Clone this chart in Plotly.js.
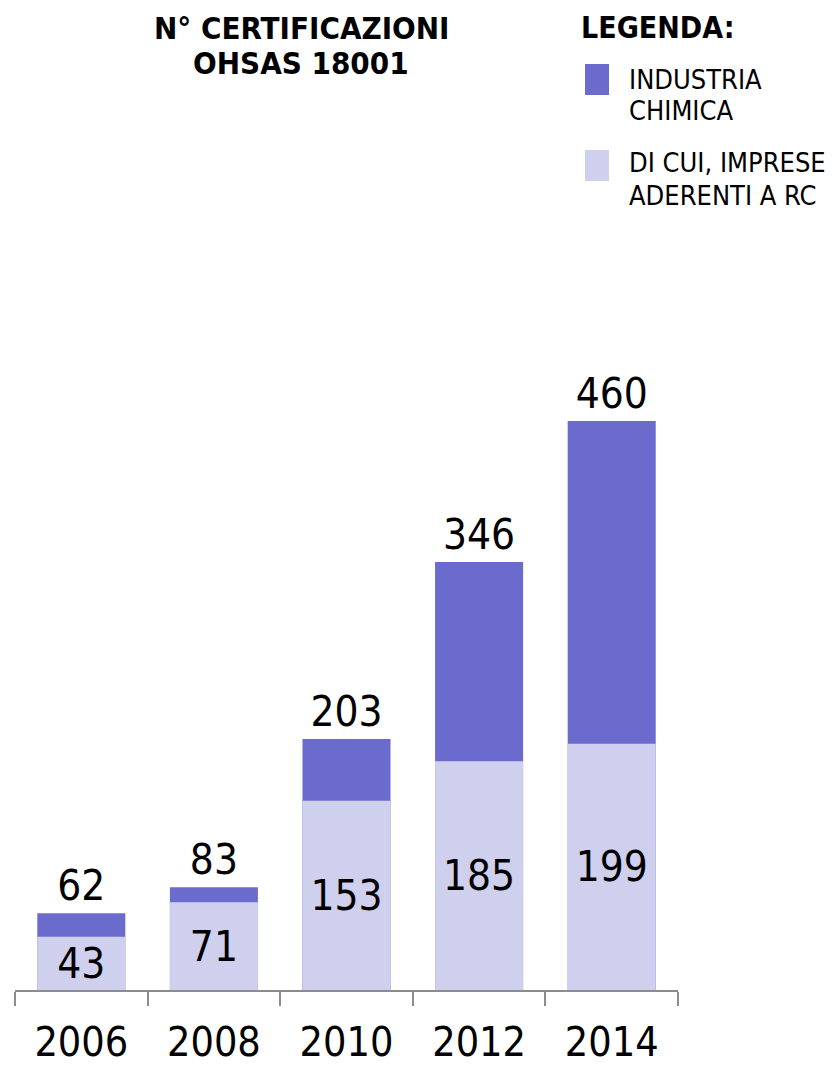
<!DOCTYPE html>
<html>
<head>
<meta charset="utf-8">
<script src="https://cdn.plot.ly/plotly-3.0.1.min.js"></script>
<style>html,body{margin:0;padding:0;background:#fff;}#chart{width:836px;height:1067px;}</style>
</head>
<body>
<div id="chart"></div>
<script>
const years = ['2006', '2008', '2010', '2012', '2014'];
const industriaChimica = [62, 83, 203, 346, 460];
const impreseRC = [43, 71, 153, 185, 199];
const seriesNameLines = [['INDUSTRIA', 'CHIMICA'], ['DI CUI, IMPRESE', 'ADERENTI A RC']];
const titleLines = ['N° CERTIFICAZIONI', 'OHSAS 18001'];
const legendTitle = 'LEGENDA:';

const DARK = '#6b6bce';
const LIGHT = '#cfcfee';
const FONT = '"DejaVu Sans Condensed", Tahoma, "Liberation Sans", sans-serif';

const traces = [
  {
    type: 'bar', x: years, y: industriaChimica, name: 'INDUSTRIA CHIMICA',
    marker: {color: DARK},
    text: industriaChimica.map(String), textposition: 'outside', textangle: 0,
    textfont: {family: FONT, size: 42, color: '#000'},
    cliponaxis: false, constraintext: 'none', hoverinfo: 'x+y'
  },
  {
    type: 'bar', x: years, y: impreseRC, name: 'DI CUI, IMPRESE ADERENTI A RC',
    marker: {color: LIGHT},
    text: impreseRC.map(String), textposition: 'inside', insidetextanchor: 'middle', textangle: 0,
    textfont: {family: FONT, size: 42, color: '#000'},
    cliponaxis: false, constraintext: 'none', hoverinfo: 'x+y'
  }
];

const W = 836, H = 1067, ml = 15, mr = 158, mt = 100, mb = 77;
const pw = W - ml - mr, ph = H - mt - mb;
const px = x => (x - ml) / pw;
const py = y => (H - mb - y) / ph;

const layout = {
  width: W, height: H,
  margin: {l: ml, r: mr, t: mt, b: mb},
  paper_bgcolor: '#fff', plot_bgcolor: '#fff',
  barmode: 'overlay', bargap: 0.336,
  showlegend: false,
  uniformtext: {mode: 'show', minsize: 42},
  font: {family: FONT, color: '#000'},
  xaxis: {
    type: 'category', showline: true, linecolor: '#8c8c8c', linewidth: 2,
    ticks: 'outside', tickson: 'boundaries', ticklen: 14, tickwidth: 2, tickcolor: '#8c8c8c',
    tickfont: {family: FONT, size: 41, color: '#000'}, ticklabelstandoff: 15,
    showgrid: false, zeroline: false, fixedrange: true
  },
  yaxis: {
    range: [0, 719.5], visible: false, showgrid: false, zeroline: false, fixedrange: true
  },
  shapes: [
    {type: 'rect', xref: 'paper', yref: 'paper', x0: px(585), x1: px(609), y0: py(95), y1: py(64),
     fillcolor: DARK, line: {width: 0}},
    {type: 'rect', xref: 'paper', yref: 'paper', x0: px(585), x1: px(609), y0: py(181), y1: py(150),
     fillcolor: LIGHT, line: {width: 0}}
  ],
  annotations: [
    {xref: 'paper', yref: 'paper', x: px(579), y: py(27), text: '<b>' + legendTitle + '</b>',
     showarrow: false, xanchor: 'left', yanchor: 'middle', align: 'left',
     font: {family: FONT, size: 30, color: '#000'}}
  ]
};

const titleYs = [28, 63];
titleLines.forEach((t, j) => {
  layout.annotations.push({
    xref: 'paper', yref: 'paper', x: px(301), y: py(titleYs[j]), text: '<b>' + t + '</b>',
    showarrow: false, xanchor: 'center', yanchor: 'middle', align: 'center',
    font: {family: FONT, size: 31, color: '#000'}
  });
});

const lineYs = [[79, 111], [163, 195]];
seriesNameLines.forEach((lines, i) => {
  lines.forEach((t, j) => {
    layout.annotations.push({
      xref: 'paper', yref: 'paper', x: px(627), y: py(lineYs[i][j]), text: t,
      showarrow: false, xanchor: 'left', yanchor: 'middle', align: 'left',
      font: {family: FONT, size: 27, color: '#000'}
    });
  });
});

Plotly.newPlot('chart', traces, layout, {displayModeBar: false, staticPlot: true});
</script>
</body>
</html>
